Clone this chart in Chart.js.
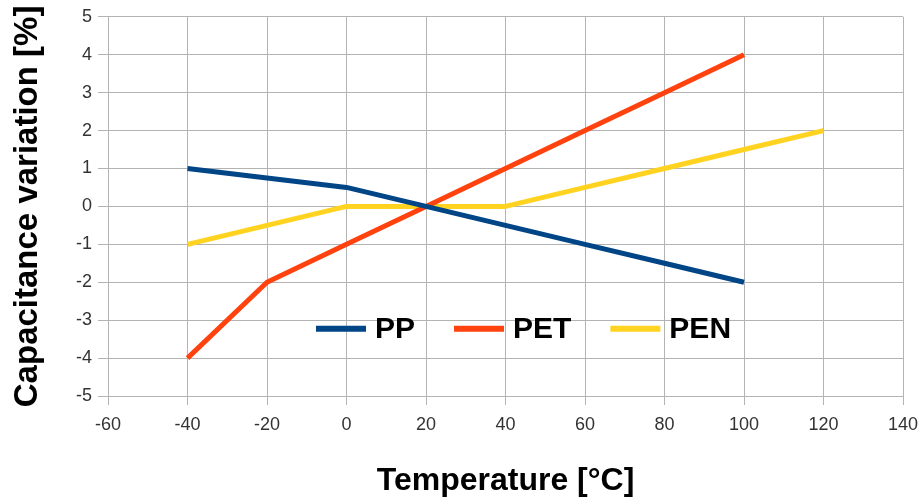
<!DOCTYPE html>
<html>
<head>
<meta charset="utf-8">
<script src="https://cdn.jsdelivr.net/npm/chart.js@4/dist/chart.umd.min.js"></script>
<style>
  html, body { margin: 0; padding: 0; background: #fff; }
  canvas { display: block; }
</style>
</head>
<body>
<canvas id="capChart" width="920" height="500"></canvas>
<script>
// values
const temps = [-40, -20, 0, 20, 40, 60, 80, 100, 120];
const ppValues = [1, 0.75, 0.5, 0, -0.5, -1, -1.5, -2, null];
const petValues = [-4, -2, -1, 0, 1, 2, 3, 4, null];
const penValues = [-1, -0.5, 0, 0, 0, 0.5, 1, 1.5, 2];
const seriesNames = ['PP', 'PET', 'PEN'];
const seriesColors = ['#004586', '#ff420e', '#ffd320'];

const xTicks = [-60, -40, -20, 0, 20, 40, 60, 80, 100, 120, 140];
const yTicks = [-5, -4, -3, -2, -1, 0, 1, 2, 3, 4, 5];

const FONT = '"Liberation Sans", Arial, sans-serif';
const GRID = '#b3b3b3';

function toPoints(vals) {
  return temps.map((t, i) => ({ x: t, y: vals[i] }));
}

// legend drawn inside the plot area, like the original
const insideLegend = {
  id: 'insideLegend',
  afterDatasetsDraw(chart) {
    const { ctx, chartArea } = chart;
    let x = chartArea.left + 208;
    const y = chartArea.top + 312;
    ctx.save();
    ctx.font = 'bold 30px ' + FONT;
    ctx.textBaseline = 'middle';
    chart.data.datasets.forEach(ds => {
      ctx.strokeStyle = ds.borderColor;
      ctx.lineWidth = 6;
      ctx.beginPath();
      ctx.moveTo(x, y);
      ctx.lineTo(x + 50, y);
      ctx.stroke();
      x += 59;
      ctx.fillStyle = '#000';
      ctx.fillText(ds.label, x, y + 1);
      x += ctx.measureText(ds.label).width + 39;
    });
    ctx.restore();
  }
};

const datasets = [ppValues, petValues, penValues].map((vals, i) => ({
  label: seriesNames[i],
  data: toPoints(vals),
  borderColor: seriesColors[i],
  backgroundColor: seriesColors[i],
  borderWidth: 5,
  pointRadius: 0,
  tension: 0,
  borderJoinStyle: 'round'
}));

new Chart(document.getElementById('capChart'), {
  type: 'line',
  data: { datasets },
  options: {
    responsive: false,
    animation: false,
    layout: { padding: { top: 16, right: 0, left: 0, bottom: 0 } },
    plugins: {
      legend: { display: false },
      tooltip: { enabled: false }
    },
    scales: {
      x: {
        type: 'linear',
        min: -60,
        max: 140,
        afterBuildTicks: s => { s.ticks = xTicks.map(v => ({ value: v })); },
        afterFit: s => { s.height = 104; s.paddingRight = 17; s.paddingLeft = 0; },
        grid: { color: GRID, tickLength: 9 },
        border: { color: GRID },
        ticks: { color: '#333', font: { family: FONT, size: 18 }, padding: 9, maxRotation: 0 },
        title: {
          display: true,
          text: 'Temperature [°C]',
          color: '#000',
          font: { family: FONT, size: 32, weight: 'bold' },
          padding: { top: 0, bottom: 0 }
        }
      },
      y: {
        min: -5,
        max: 5,
        afterBuildTicks: s => { s.ticks = yTicks.map(v => ({ value: v })); },
        afterFit: s => { s.width = 108; },
        grid: { color: GRID, tickLength: 10 },
        border: { color: GRID },
        ticks: { color: '#333', font: { family: FONT, size: 18 }, padding: 6 },
        title: {
          display: true,
          text: 'Capacitance variation [%]',
          color: '#000',
          font: { family: FONT, size: 33, weight: 'bold' },
          padding: { top: 8, bottom: 0 }
        }
      }
    }
  },
  plugins: [insideLegend]
});
</script>
</body>
</html>
